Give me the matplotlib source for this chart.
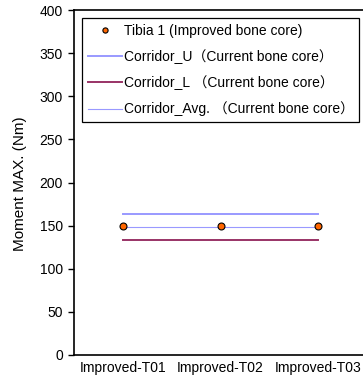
import numpy as np
import matplotlib.pyplot as plt

plt.rcParams['font.family'] = ['Liberation Sans', 'Noto Sans CJK SC', 'DejaVu Sans']
plt.rcParams['font.size'] = 10

categories = ['Improved-T01', 'Improved-T02', 'Improved-T03']
tibia1 = [149, 149, 149]
corridor_u = [163, 163, 163]
corridor_l = [133, 133, 133]
corridor_avg = [148, 148, 148]

fig = plt.figure(figsize=(3.63, 3.84), dpi=100)
ax = fig.add_axes([74 / 363, 29 / 384, 293 / 363, 345 / 384])

x = np.arange(1, len(categories) + 1)
ax.plot(x, tibia1, 'o', color='#FF6600', markeredgecolor='black',
        markeredgewidth=0.8, markersize=5, label='Tibia 1 (Improved bone core)', zorder=4)
ax.plot(x, corridor_u, color='#9999FF', lw=1.4, label='Corridor_U（Current bone core）')
ax.plot(x, corridor_l, color='#993366', lw=1.4, label='Corridor_L （Current bone core）')
ax.plot(x, corridor_avg, color='#9999FF', lw=0.8, label='Corridor_Avg. （Current bone core）')

ax.set_xlim(0.5, 3.5)
ax.set_ylim(0, 400)
ax.set_yticks(range(0, 401, 50))
ax.set_xticks(x)
ax.set_xticklabels(categories)
ax.tick_params(axis='x', length=0, pad=4)
ax.tick_params(axis='y', length=4, width=1, direction='out', pad=4)
ax.set_ylabel('Moment MAX. (Nm)', fontsize=11)
ax.yaxis.set_label_coords(-0.16, 0.496)
for s in ax.spines.values():
    s.set_linewidth(1.2)

leg = ax.legend(loc='upper left', bbox_to_anchor=(82 / 363, 1 - 18 / 384),
                bbox_transform=fig.transFigure, borderaxespad=0,
                fancybox=False, edgecolor='black', framealpha=1,
                handlelength=2.5, handletextpad=0.1, labelspacing=0.82,
                borderpad=0.4, markerscale=0.75)
leg.get_frame().set_linewidth(0.9)

fig.savefig('out.png', dpi=100)
